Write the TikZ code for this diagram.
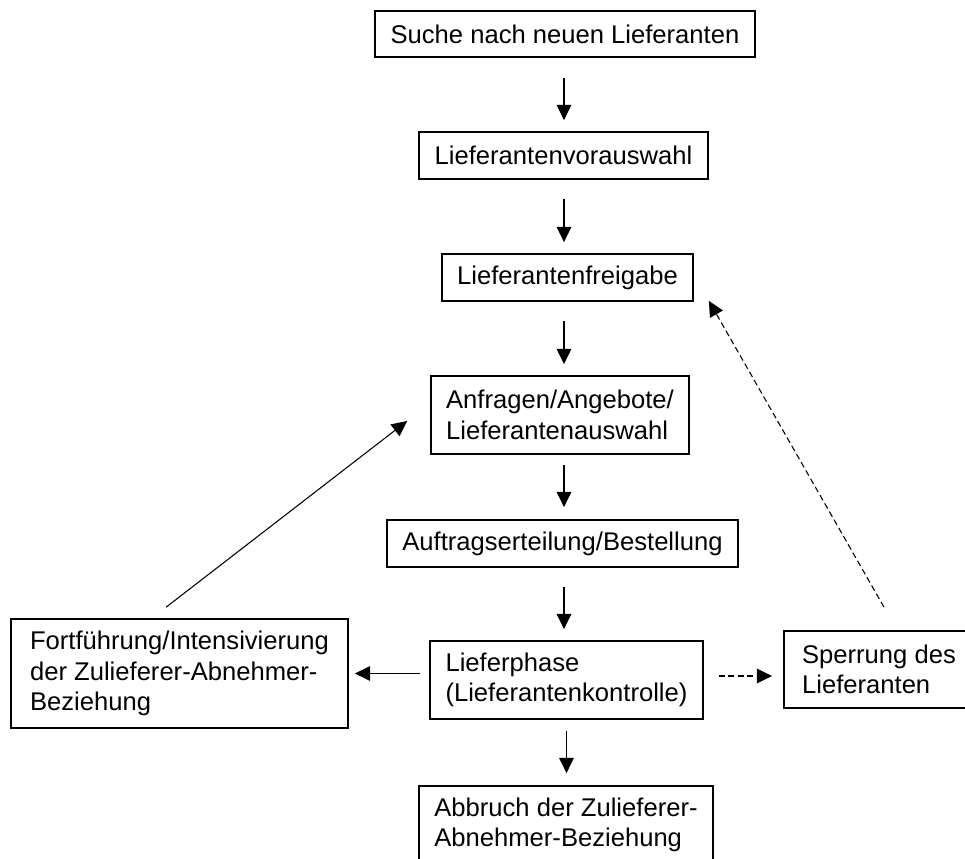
\documentclass[tikz,border=0pt]{standalone}
\usepackage{fontspec}
\setmainfont{Liberation Sans}
\usetikzlibrary{arrows.meta}

\begin{document}
\begin{tikzpicture}[x=0.75pt,y=-0.75pt, % pixel grid of the original, y going down
    box/.style={draw, line width=1.3pt, align=left, inner sep=4pt,
        font=\fontsize{19.2}{23}\selectfont},
    flow/.style={line width=0.8pt, -{Triangle[length=11.5pt,width=11pt]}},
    flowdash/.style={flow, dash pattern=on 4.5pt off 2.6pt}]

        % Canvas (same size as the original)
        \useasboundingbox (0,0) rectangle (965,859);
        \clip (0,0) rectangle (965,859);

        % Column of the vertical arrows
        \coordinate (axis) at (564,0);

        % Main chain (top to bottom)
        \node[box, minimum width=285pt, minimum height=34.5pt] (suche) at (565,34) {Suche nach neuen Lieferanten};
        \node[box, minimum width=216.75pt, minimum height=35.25pt] (vorausw) at (563.5,155.5) {Lieferantenvorauswahl};
        \node[box, minimum width=188.25pt, minimum height=35.25pt] (freig) at (567.5,277.5) {Lieferantenfreigabe};
        \node[box, minimum width=193.5pt, minimum height=58.5pt] (anfr) at (560,415) {Anfragen/Angebote/\\Lieferantenauswahl};
        \node[box, minimum width=263.25pt, minimum height=35.25pt] (auftr) at (562.5,543.5) {Auftragserteilung/Bestellung};
        \node[box, minimum width=204.75pt, minimum height=58.5pt] (liefph) at (566.5,680) {Lieferphase\\(Lieferantenkontrolle)};
        \node[box, minimum width=220.5pt, minimum height=58.5pt] (abbr) at (566,825) {Abbruch der Zulieferer-\\Abnehmer-Beziehung};

        % Side boxes
        \node[box, minimum width=252.75pt, minimum height=81.75pt] (fort) at (179.5,673.5) {Fortführung/Intensivierung\\der Zulieferer-Abnehmer-\\Beziehung};
        \node[box, minimum width=142.5pt, minimum height=57.75pt] (sperr) at (879,669.5) {Sperrung des\\Lieferanten};

        % Vertical arrows
        \draw[flow, shorten <=15pt, shorten >=8.25pt] (axis |- suche.south) -- (axis |- vorausw.north);
        \draw[flow, shorten <=14.25pt, shorten >=8.25pt] (axis |- vorausw.south) -- (axis |- freig.north);
        \draw[flow, shorten <=14.25pt, shorten >=8.25pt] (axis |- freig.south) -- (axis |- anfr.north);
        \draw[flow, shorten <=7.5pt, shorten >=9pt] (axis |- anfr.south) -- (axis |- auftr.north);
        \draw[flow, shorten <=14.25pt, shorten >=8.25pt] (axis |- auftr.south) -- (axis |- liefph.north);
        \draw[flow, shorten <=8.25pt, shorten >=9pt] (liefph.south) -- (liefph.south |- abbr.north);

        % Side arrows
        \draw[flow, shorten <=6.75pt, shorten >=4.5pt] (fort.east -| liefph.west) -- (fort.east);
        \draw[flowdash, shorten <=11.25pt, shorten >=8.25pt] ([yshift=3pt]liefph.east) -- ([yshift=3pt]liefph.east -| sperr.west);

        % Feedback arrows
        \draw[flow] ([xshift=-10pt,yshift=8.25pt]fort.north) -- ([xshift=-17.25pt,yshift=-4.5pt]anfr.west);
        \draw[flowdash] ([xshift=3.75pt,yshift=17.25pt]sperr.north) -- ([xshift=11.25pt,yshift=0.75pt]freig.south east);

    \end{tikzpicture}
\end{document}
